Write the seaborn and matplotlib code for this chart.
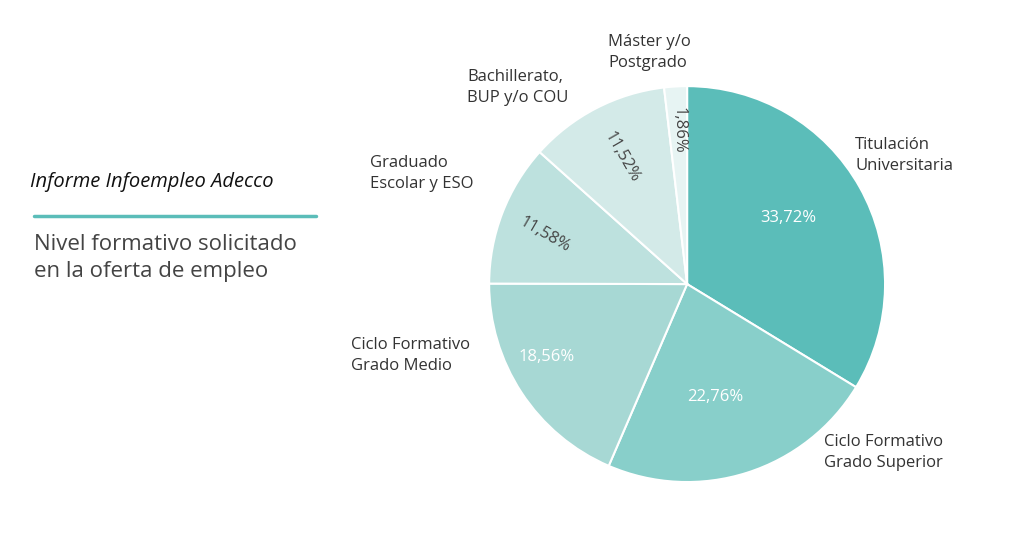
import numpy as np
import seaborn as sns
import matplotlib.pyplot as plt

categorias = ["Titulación\nUniversitaria", "Ciclo Formativo\nGrado Superior",
              "Ciclo Formativo\nGrado Medio", "Graduado\nEscolar y ESO",
              "Bachillerato,\nBUP y/o COU", "Máster y/o\nPostgrado"]
porcentajes = [33.72, 22.76, 18.56, 11.58, 11.52, 1.86]
colores = ["#5bbdb9", "#88cfca", "#a7d8d4", "#bde1de", "#d3eae8", "#e7f4f3"]
color_texto = ["white", "white", "white", "#444444", "#444444", "#444444"]

# posicion de las etiquetas exteriores (x, y) en unidades del radio, alineadas a la izquierda
pos_etiquetas = [(0.85, 0.65), (0.69, -0.85), (-1.70, -0.36),
                 (-1.60, 0.56), (-1.11, 0.995), (-0.40, 1.17)]
# radio, desvio angular y giro de los porcentajes
radio_pct = [0.61, 0.59, 0.80, 0.76, 0.72, 0.78]
desvio_pct = [4, -3.5, -6, 2, 0, 0]
giro_pct = [0, 0, 0, -30, -60, -90]

sns.set_theme(style="white")
plt.rcParams['font.family'] = ['Open Sans', 'DejaVu Sans']

fig = plt.figure(figsize=(10.24, 5.35), dpi=100)
ax = fig.add_axes([0.4775, 0.099, 0.387, 0.740])

wedges, _ = ax.pie(porcentajes, colors=colores, startangle=90, counterclock=False,
                   wedgeprops=dict(edgecolor="white", linewidth=1.5))
ax.set_xlim(-1, 1)
ax.set_ylim(-1, 1)
ax.set_aspect("equal")
ax.axis("off")

for i, w in enumerate(wedges):
    ang = np.deg2rad((w.theta1 + w.theta2) / 2 + desvio_pct[i])
    r = radio_pct[i]
    txt = f"{porcentajes[i]:.2f}".replace(".", ",") + "%"
    ax.text(r * np.cos(ang), r * np.sin(ang), txt, ha="center", va="center",
            rotation=giro_pct[i], color=color_texto[i], fontsize=12)
    x, y = pos_etiquetas[i]
    ax.text(x, y, categorias[i], ha="left", va="center", color="#333333",
            fontsize=12, linespacing=1.4, clip_on=False)

fig.text(30 / 1024, 1 - 182 / 535, "Informe Infoempleo Adecco", style="italic",
         fontsize=14.5, color="#111111", va="center", ha="left")
fig.add_artist(plt.Line2D([34 / 1024, 316 / 1024], [1 - 216 / 535, 1 - 216 / 535],
                          color="#5bbdb9", lw=2.5))
fig.text(34 / 1024, 1 - 258 / 535, "Nivel formativo solicitado\nen la oferta de empleo",
         fontsize=16, color="#444444", va="center", ha="left", linespacing=1.4)

plt.savefig("out.png", dpi=100)
